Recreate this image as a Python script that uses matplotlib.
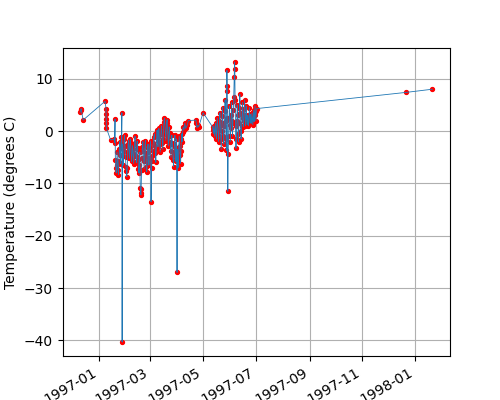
import numpy as np
import matplotlib
matplotlib.use('Agg')
import matplotlib.pyplot as plt
import matplotlib.dates as mdates
import datetime as dt

# days since 1997-01-01 and the temperature read at that time
start = dt.datetime(1997, 1, 1)

day_dec = [-21.9, -21.3, -20.7, -18.5]
temp_dec = [3.6, 4.0, 4.3, 2.1]

day_jan = [6.9, 8.0, 8.1, 8.2, 8.3, 8.4, 13.3]
temp_jan = [5.7, 4.3, 3.2, 2.3, 1.5, 0.6, -1.7]

day_feb = [17.3, 17.8, 18.4, 18.8, 19.3, 19.8, 20.3, 20.8, 21.3, 21.8, 22.3, 22.8,
           23.3, 23.8, 24.3, 24.8, 25.3, 25.8, 26.3, 26.6, 27.0, 27.5, 28.0, 28.5,
           29.0, 29.5, 30.0, 30.5, 31.0, 31.5, 32.0, 32.5, 33.0, 33.5, 34.0, 34.5,
           35.0, 35.5, 36.0, 36.5, 37.0, 37.5, 38.0, 38.5, 39.0, 39.5, 40.0, 40.5,
           41.0, 41.5, 42.0, 42.5, 43.0, 43.5, 44.0, 44.5, 45.0, 45.5, 46.0, 46.5,
           47.0, 47.5, 48.0, 48.3, 48.6, 49.0, 49.5, 50.0, 50.5, 51.0, 51.5, 52.0,
           52.5, 53.0, 53.5, 54.0, 54.5, 55.0, 55.5, 56.0, 56.5, 57.0, 57.5, 58.0,
           58.5, 59.5, 60.0, 60.6, 61.0, 61.5, 62.0, 62.5, 63.0]
temp_feb = [-1.5, -2.2, 2.3, -5.5, -7.0, -8.0, -6.5, -4.0, -5.8, -7.5, -8.3, -6.0,
            -3.5, -2.0, -4.5, -6.2, -3.0, -1.2, 3.5, -40.3, -2.5, -4.8, -6.5, -3.8,
            -1.5, -0.8, -2.8, -5.0, -6.8, -7.6, -8.7, -7.0, -4.2, -2.5, -1.8, -3.5,
            -5.2, -3.0, -1.5, -2.2, -4.0, -5.8, -4.5, -2.8, -3.5, -5.0, -6.2, -4.3,
            -2.2, -1.0, -2.5, -4.8, -6.0, -3.5, -1.9, -3.2, -5.5, -7.2, -8.0, -6.5,
            -4.0, -10.8, -11.9, -12.2, -11.0, -7.5, -5.2, -3.0, -2.0, -3.8, -5.8, -7.2,
            -5.0, -2.5, -1.8, -4.2, -6.8, -7.8, -6.0, -3.2, -2.5, -4.0, -6.5, -5.2,
            -3.0, -1.9, -13.5, -7.0, -5.8, -4.7, -3.8, -2.3, -1.2]

day_apr = [64.0, 64.5, 65.0, 65.5, 66.0, 66.5, 67.0, 67.5, 68.0, 68.5, 69.0, 69.5,
           70.0, 70.5, 71.0, 71.5, 72.0, 72.5, 73.0, 73.5, 74.0, 74.5, 75.0, 75.5,
           76.0, 76.5, 77.0, 77.5, 78.0, 78.5, 79.0, 79.5, 80.0, 80.5, 81.0, 81.5,
           82.0, 82.5, 83.0, 83.5, 84.0, 84.5, 85.0, 85.5, 86.0, 86.5, 87.0, 87.5,
           88.0, 88.5, 89.0, 89.5, 90.0, 90.4, 90.8, 91.2, 91.6, 92.0, 92.5, 93.0,
           93.5, 94.0, 94.5, 95.0, 95.5, 96.0, 96.5, 97.0, 98.0, 99.0, 100.0, 102.0,
           103.0, 111.7, 112.3, 113.0, 114.0, 115.0, 120.0]
temp_apr = [-0.5, -2.8, -4.2, -6.0, -3.5, -1.0, 0.2, -1.8, -3.0, -1.2, 0.5, -0.8,
            -2.5, -4.0, -2.0, 0.0, 1.0, -0.5, -2.2, -3.5, -1.5, 0.8, 1.8, 2.5,
            1.2, -0.5, -1.8, 0.3, 1.5, 2.2, 0.5, -1.2, -2.8, -1.0, 0.8, -0.3,
            -2.0, -3.8, -5.0, -2.5, -0.8, -2.2, -4.0, -5.5, -6.8, -4.5, -2.5, -0.8,
            -3.0, -5.8, -4.0, -1.5, -27.0, -3.5, -5.2, -7.0, -5.5, -3.0, -1.0, -2.8,
            -4.5, -6.2, -3.8, -1.5, -0.5, -2.0, -0.2, 0.8, 0.2, 1.5, 0.5, 1.2,
            2.0, 2.1, 1.5, 0.6, 1.1, 0.8, 3.5]

day_jun = [131.0, 131.5, 132.0, 132.5, 133.0, 133.5, 134.0, 134.5, 135.0, 135.5,
           136.0, 136.5, 137.0, 137.5, 138.0, 138.5, 139.0, 139.5, 140.0, 140.5,
           141.0, 141.5, 142.0, 142.5, 143.0, 143.5, 144.0, 144.5, 145.0, 145.5,
           146.0, 146.5, 147.0, 147.3, 147.6, 147.9, 148.2, 148.6, 149.0, 149.5,
           150.0, 150.5, 151.0, 151.5, 152.0, 152.5, 153.0, 153.5, 154.0, 154.5,
           155.0, 155.5, 156.0, 156.4, 156.7, 157.0, 157.5, 158.0, 158.5, 159.0,
           159.5, 160.0, 160.5, 161.0, 161.5, 162.0, 162.5, 163.0, 163.5, 164.0,
           164.5, 165.0, 165.5, 166.0, 166.5, 167.0, 167.5, 168.0, 168.5, 169.0,
           169.5, 170.0, 170.5, 171.0, 171.5, 172.0, 172.5, 173.0, 173.5, 174.0,
           174.5, 175.0, 175.5, 176.0, 176.5, 177.0, 177.5, 178.0, 178.5, 179.0,
           179.5, 180.0, 180.5, 181.0, 181.5, 182.0]
temp_jun = [0.8, 0.2, -0.5, 1.0, 0.0, -1.0, 0.5, 1.5, -0.5, -1.5,
            0.8, 2.5, 1.0, -0.8, -2.0, 0.2, 2.0, 3.5, 1.0, -1.5,
            -3.5, 0.0, 2.8, 4.5, 1.5, -1.0, -2.5, 1.0, 3.8, 6.0,
            2.0, -1.5, -3.7, 7.6, 11.6, 8.7, 2.5, -11.5, -4.4, -1.0,
            2.5, 4.8, 1.2, -2.0, 0.5, 3.0, 5.5, 2.0, -1.0, 1.5,
            4.0, 6.5, 10.3, 13.2, 11.9, 6.0, 1.0, -3.3, -1.5, 2.0,
            5.0, 3.0, -0.5, -2.0, 1.5, 4.5, 7.0, 3.5, 0.0, -1.5,
            1.0, 3.2, 5.5, 2.5, 0.8, 2.0, 4.2, 6.0, 3.0, 1.0,
            2.5, 4.8, 2.0, 1.2, 3.0, 2.2, 1.0, 2.8, 4.5, 2.5,
            1.5, 3.2, 2.0, 1.5, 3.5, 2.2, 1.2, 2.5, 4.0, 1.8,
            3.0, 4.8, 3.5, 2.0, 3.8, 4.3]

day_late = [354.8, 384.8]
temp_late = [7.4, 8.0]

days = day_dec + day_jan + day_feb + day_apr + day_jun + day_late
temps = temp_dec + temp_jan + temp_feb + temp_apr + temp_jun + temp_late
dates = [start + dt.timedelta(days=d) for d in days]

fig = plt.figure(figsize=(5, 4), dpi=100)
ax = fig.add_subplot(111)
ax.plot(dates, temps, 'o', color='red', ms=2.8, mec='red')
ax.plot(dates, temps, '-', lw=0.6)
ax.xaxis.set_major_locator(mdates.MonthLocator(bymonth=[1, 3, 5, 7, 9, 11]))
ax.xaxis.set_major_formatter(mdates.DateFormatter('%Y-%m'))
plt.setp(ax.get_xticklabels(), rotation=30, ha='right')
ax.set_ylabel('Temperature (degrees C)')
ax.grid(True)
fig.savefig('out.png')
